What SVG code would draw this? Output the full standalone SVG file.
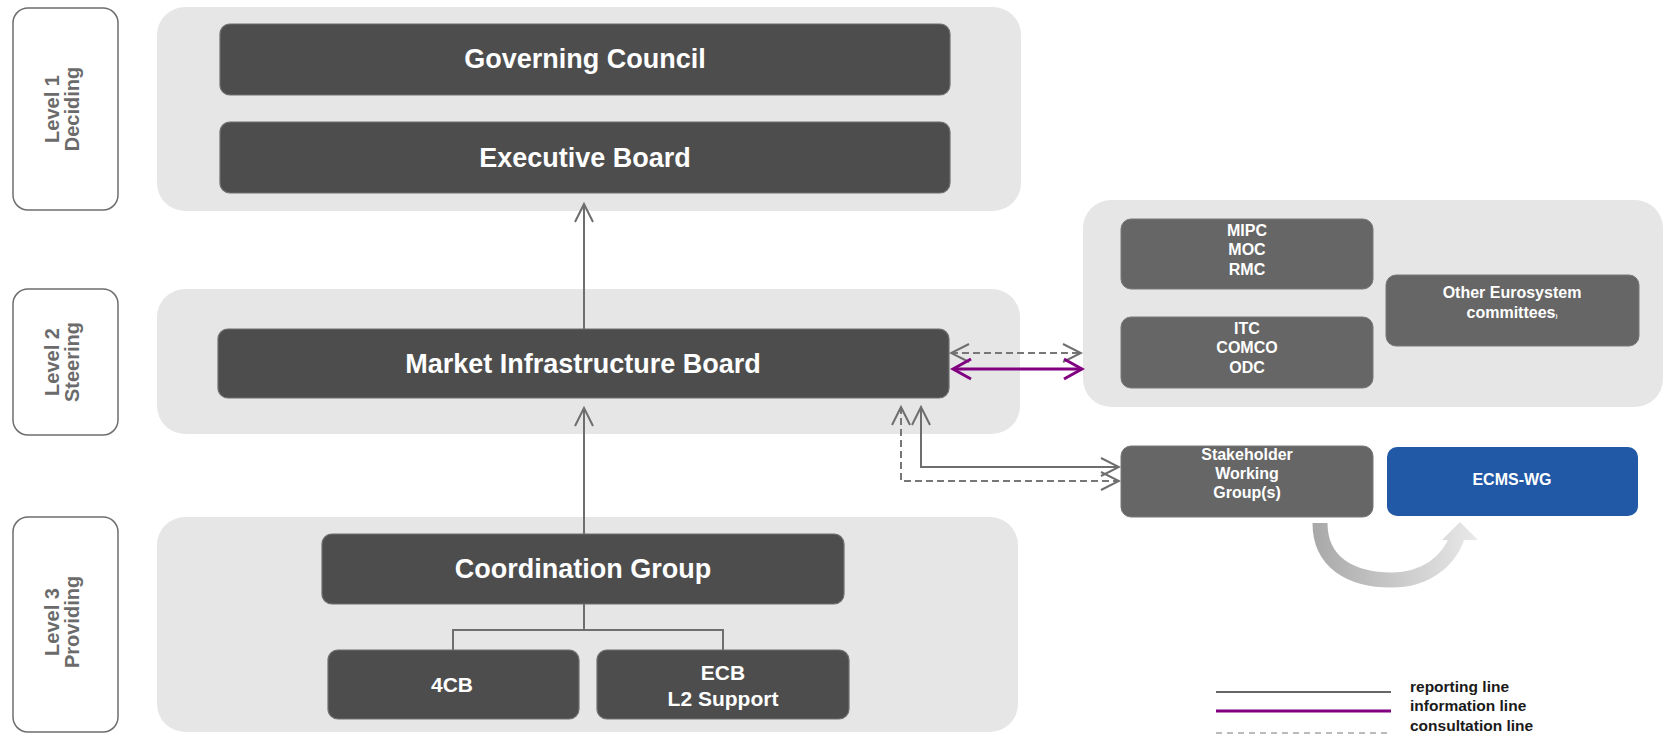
<svg xmlns="http://www.w3.org/2000/svg" width="1664" height="734" viewBox="0 0 1664 734">
<style>
.panel{fill:#e6e6e6}
.lvl{fill:#fff;stroke:#6e6e6e;stroke-width:1.5}
.lvlt{font-family:"Liberation Sans",Arial,sans-serif;font-weight:bold;font-size:20px;fill:#6b6b6b;text-anchor:middle}
.dark{fill:#4d4d4d;stroke:#6f6f6f;stroke-width:1.2}
.mid{fill:#666;stroke:#787878;stroke-width:1}
.blue{fill:#2159a6}
.t{font-family:"Liberation Sans",Arial,sans-serif;font-weight:bold;fill:#fff;text-anchor:middle}
.big{font-size:27px}
.med{font-size:21px}
.sm{font-size:16px}
.rep{stroke:#6e6e6e;stroke-width:2;fill:none}
.con{stroke:#777;stroke-width:2;stroke-dasharray:7 4;fill:none}
.inf{stroke:#800080;stroke-width:3;fill:none}
.leg{font-family:"Liberation Sans",Arial,sans-serif;font-weight:bold;font-size:15.5px;fill:#1a1a1a}
</style>
<defs>
<marker id="ag" markerUnits="userSpaceOnUse" markerWidth="22" markerHeight="22" viewBox="0 0 22 22" refX="20" refY="11" orient="auto-start-reverse">
<path d="M2,2 L20,11 L2,20" fill="none" stroke="#6e6e6e" stroke-width="2"/>
</marker>
<marker id="ap" markerUnits="userSpaceOnUse" markerWidth="24" markerHeight="24" viewBox="0 0 24 24" refX="21" refY="12" orient="auto-start-reverse">
<path d="M3,2 L21,12 L3,22" fill="none" stroke="#800080" stroke-width="3"/>
</marker>
<linearGradient id="cg" gradientUnits="userSpaceOnUse" x1="1315" y1="0" x2="1475" y2="0">
<stop offset="0" stop-color="#a9a9a9"/>
<stop offset="1" stop-color="#e8e8e8"/>
</linearGradient>
</defs>

<g id="panels">
<rect class="panel" x="157" y="7" width="864" height="204" rx="28"/>
<rect class="panel" x="157" y="289" width="863" height="145" rx="28"/>
<rect class="panel" x="157" y="517" width="861" height="215" rx="28"/>
<rect class="panel" x="1083" y="200" width="580" height="207" rx="28"/>
</g>

<g id="level1"><rect class="lvl" x="13" y="8" width="105" height="202" rx="15"/>
<text class="lvlt" transform="translate(59,109) rotate(-90)"><tspan x="0" y="0">Level 1</tspan><tspan x="0" y="20">Deciding</tspan></text></g>
<g id="level2"><rect class="lvl" x="13" y="289" width="105" height="146" rx="15"/>
<text class="lvlt" transform="translate(59,362) rotate(-90)"><tspan x="0" y="0">Level 2</tspan><tspan x="0" y="20">Steering</tspan></text></g>
<g id="level3"><rect class="lvl" x="13" y="517" width="105" height="215" rx="15"/>
<text class="lvlt" transform="translate(59,622) rotate(-90)"><tspan x="0" y="0">Level 3</tspan><tspan x="0" y="20">Providing</tspan></text></g>

<g id="connectors">
<path class="rep" d="M584,329 V204" marker-end="url(#ag)"/>
<path class="rep" d="M584,534 V408" marker-end="url(#ag)"/>
<path class="rep" d="M584,604 V630 M453,650 V630 H723 V650"/>
<path class="con" d="M951,353 H1081" marker-start="url(#ag)" marker-end="url(#ag)"/>
<path class="inf" d="M953,369 H1082" marker-start="url(#ap)" marker-end="url(#ap)"/>
<path class="rep" d="M921,407 V467 H1119" marker-start="url(#ag)" marker-end="url(#ag)"/>
<path class="con" d="M901,407 V481 H1119" marker-start="url(#ag)" marker-end="url(#ag)"/>
<path d="M1320,523 C1320,562 1350,580 1392,580 C1425,580 1448,562 1457,538" fill="none" stroke="url(#cg)" stroke-width="15"/>
<polygon points="1460,522 1442,540 1478,540" fill="url(#cg)"/>
</g>

<g id="governing-council"><rect class="dark" x="220" y="24" width="730" height="71" rx="10"/>
<text class="t big" x="585" y="68">Governing Council</text></g>
<g id="executive-board"><rect class="dark" x="220" y="122" width="730" height="71" rx="10"/>
<text class="t big" x="585" y="167">Executive Board</text></g>
<g id="market-infrastructure-board"><rect class="dark" x="218" y="329" width="731" height="69" rx="10"/>
<text class="t big" x="583" y="373">Market Infrastructure Board</text></g>
<g id="coordination-group"><rect class="dark" x="322" y="534" width="522" height="70" rx="10"/>
<text class="t big" x="583" y="578">Coordination Group</text></g>
<g id="cb4"><rect class="dark" x="328" y="650" width="251" height="69" rx="10"/>
<text class="t med" x="452" y="692">4CB</text></g>
<g id="ecb-l2"><rect class="dark" x="597" y="650" width="252" height="69" rx="10"/>
<text class="t med" x="723" y="680">ECB</text><text class="t med" x="723" y="706">L2 Support</text></g>

<g id="mipc"><rect class="mid" x="1121" y="219" width="252" height="70" rx="10"/>
<text class="t sm" x="1247" y="236">MIPC</text><text class="t sm" x="1247" y="255">MOC</text><text class="t sm" x="1247" y="275">RMC</text></g>
<g id="itc"><rect class="mid" x="1121" y="317" width="252" height="71" rx="10"/>
<text class="t sm" x="1247" y="334">ITC</text><text class="t sm" x="1247" y="353">COMCO</text><text class="t sm" x="1247" y="373">ODC</text></g>
<g id="other-committees"><rect class="mid" x="1386" y="275" width="253" height="71" rx="10"/>
<text class="t sm" x="1512" y="298">Other Eurosystem</text><text class="t sm" x="1512" y="318">committees<tspan font-size="6">)</tspan></text></g>
<g id="stakeholder-wg"><rect class="mid" x="1121" y="446" width="252" height="71" rx="10"/>
<text class="t sm" x="1247" y="460">Stakeholder</text><text class="t sm" x="1247" y="479">Working</text><text class="t sm" x="1247" y="498">Group(s)</text></g>
<g id="ecms-wg"><rect class="blue" x="1387" y="447" width="251" height="69" rx="10"/>
<text class="t sm" x="1512" y="485">ECMS-WG</text></g>

<g id="legend">
<line x1="1216" y1="692" x2="1391" y2="692" stroke="#666" stroke-width="2"/>
<line x1="1216" y1="711" x2="1391" y2="711" stroke="#800080" stroke-width="3"/>
<line x1="1216" y1="733" x2="1391" y2="733" stroke="#bbb" stroke-width="2" stroke-dasharray="6 5"/>
<text class="leg" x="1410" y="692">reporting line</text>
<text class="leg" x="1410" y="711">information line</text>
<text class="leg" x="1410" y="731">consultation line</text>
</g>
</svg>
